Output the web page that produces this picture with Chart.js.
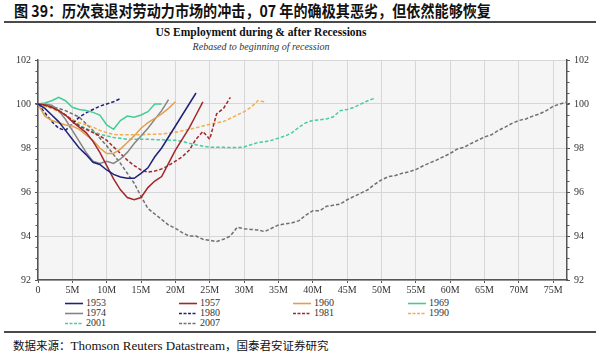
<!DOCTYPE html>
<html><head><meta charset="utf-8">
<script src="https://cdn.jsdelivr.net/npm/chart.js@4.4.1/dist/chart.umd.min.js"></script>
<style>
html,body{margin:0;padding:0;background:#fff;width:600px;height:359px;overflow:hidden;position:relative;font-family:"Liberation Serif","Noto Sans CJK SC",serif;color:#111;}
#title{position:absolute;left:14px;top:1px;font-family:"Noto Sans CJK SC",sans-serif;font-weight:bold;font-size:15.5px;line-height:19px;white-space:nowrap;transform:scaleX(0.91);transform-origin:0 0;}
.rule{position:absolute;left:4px;width:592px;height:2px;background:#4a4a4a;}
#ctitle{position:absolute;left:0;width:522px;text-align:center;top:25px;font-weight:bold;font-size:11.5px;line-height:14px;}
#csub{position:absolute;left:0;width:522px;text-align:center;top:40px;font-style:italic;font-size:10px;line-height:13px;color:#333;}
#wrap{position:absolute;left:0;top:50px;width:600px;height:245px;}
.lg{position:absolute;height:10px;font-size:10px;line-height:10px;white-space:nowrap;color:#333;}
.lg svg{position:absolute;left:0;top:0;}
.lg span{position:absolute;left:21px;top:0;}
#source{position:absolute;left:13px;top:337px;font-size:13px;line-height:16px;white-space:nowrap;}
#source .cj{font-family:"Noto Sans CJK SC",sans-serif;font-size:11.5px;}
</style>
</head>
<body>
<div id="title">图 39：历次衰退对劳动力市场的冲击，07 年的确极其恶劣，但依然能够恢复</div>
<div class="rule" style="top:21px"></div>
<div id="ctitle">US Employment during &amp; after Recessions</div>
<div id="csub">Rebased to beginning of recession</div>
<div id="wrap"><canvas id="c" width="600" height="245"></canvas></div>
<div id="legend"></div>
<div class="rule" style="top:331px"></div>
<div id="source"><span class="cj">数据来源：</span>Thomson Reuters Datastream<span class="cj">，国泰君安证券研究</span></div>
<script>
// ---- data (index = months since start of recession) ----
const seriesNames = ["1953","1957","1960","1969","1974","1980","1981","1990","2001","2007"];
const s1953 = [100,99.8,99.5,99.2,98.8,98.4,98.0,97.7,97.35,97.25,97.0,96.8,96.68,96.62,96.62,96.85,97.1,97.6,98.0,98.5,99.0,99.5,100.0,100.5];
const s1957 = [100,99.95,99.85,99.7,99.5,99.2,98.95,98.7,98.3,97.8,97.2,96.6,96.1,95.75,95.65,95.75,96.2,96.5,96.7,97.3,97.9,98.4,98.9,99.5,100.1];
const s1960 = [100,99.45,99.25,99.15,99.05,99.0,98.85,98.6,98.35,98.0,97.75,97.75,97.95,98.25,98.55,98.9,99.15,99.35,99.55,99.8,100.1];
const s1969 = [100,100.05,100.15,100.3,100.15,99.85,99.75,99.7,99.62,99.5,99.05,98.85,99.25,99.45,99.4,99.5,99.65,100.0,100.0];
const s1974 = [100,100,99.95,99.7,99.3,98.8,98.3,97.8,97.4,97.3,97.4,97.3,97.5,97.8,98.2,98.55,98.9,99.3,99.7,100.2];
const s1980 = [100,99.6,99.2,98.9,98.8,99.1,99.4,99.6,99.75,99.9,100.0,100.1,100.25];
const s1981 = [100,99.95,99.85,99.7,99.5,99.25,99.0,98.85,98.7,98.55,98.35,98.05,97.75,97.45,97.2,97.0,96.9,96.95,97.05,97.2,97.4,97.6,97.9,98.4,98.75,98.4,99.55,99.8,100.3];
const s1990 = [100,99.9,99.8,99.65,99.5,99.3,99.15,99.05,98.95,98.8,98.7,98.62,98.6,98.6,98.6,98.6,98.62,98.63,98.64,98.68,98.72,98.78,98.85,98.92,99.0,99.08,99.15,99.2,99.35,99.5,99.65,99.85,100.15,100.1];
const s2001 = [100,99.92,99.82,99.7,99.5,99.28,99.05,98.88,98.75,98.63,98.55,98.48,98.44,98.4,98.4,98.4,98.4,98.38,98.38,98.36,98.35,98.3,98.22,98.15,98.08,98.04,98.03,98.03,98.02,98.02,98.05,98.15,98.25,98.28,98.35,98.45,98.55,98.7,98.95,99.15,99.25,99.28,99.32,99.42,99.7,99.75,99.85,100.0,100.15,100.26];
const s2007 = [100,99.95,99.88,99.8,99.7,99.55,99.4,99.1,98.8,98.45,98.1,97.7,97.3,96.85,96.4,95.8,95.25,95.0,94.75,94.5,94.35,94.15,94.0,94.0,93.85,93.8,93.75,93.85,94.0,94.4,94.33,94.3,94.27,94.2,94.35,94.5,94.55,94.6,94.7,94.95,95.15,95.15,95.35,95.4,95.45,95.65,95.8,95.95,96.1,96.35,96.55,96.7,96.75,96.85,96.92,97.02,97.18,97.32,97.45,97.6,97.75,97.95,98.03,98.2,98.35,98.5,98.6,98.8,98.95,99.12,99.25,99.32,99.45,99.55,99.7,99.9,100.0,100.1];
const seriesValues = [s1953,s1957,s1960,s1969,s1974,s1980,s1981,s1990,s2001,s2007];
const yTicks = [92,94,96,98,100,102];
const xTickStep = 5; // months

// ---- styles ----
const colors = ["#1e2378","#a3262b","#e3a04c","#45cc94","#858585","#1e2378","#a3262b","#f2ad52","#45cca0","#707070"];
const dashed = [false,false,false,false,false,true,true,true,true,true];

const datasets = seriesNames.map((n,i)=>({
  label:n,
  data:seriesValues[i].map((v,k)=>({x:k,y:v})),
  borderColor:colors[i],
  backgroundColor:colors[i],
  borderWidth:1.5,
  borderDash:dashed[i]?[3.5,2]:[],
  pointRadius:0,
  tension:0,
  fill:false
}));

const bgPlugin = {
  id:'bg',
  beforeDraw(ch){
    const a=ch.chartArea, c=ch.ctx;
    c.save(); c.fillStyle='#f5f5f5'; c.fillRect(a.left,a.top,a.right-a.left,a.bottom-a.top); c.restore();
  },
  afterDraw(ch){
    const c=ch.ctx, y=ch.scales.y, a=ch.chartArea;
    c.save(); c.strokeStyle='#555'; c.lineWidth=1;
    for(let v=y.min; v<=y.max+1e-9; v+=0.5){
      const p=Math.round(y.getPixelForValue(v))+0.5;
      c.beginPath(); c.moveTo(a.left-2.5,p); c.lineTo(a.left,p); c.stroke();
      c.beginPath(); c.moveTo(a.right,p); c.lineTo(a.right+2.5,p); c.stroke();
    }
    c.restore();
  }
};

const tickFont = {family:'Liberation Serif', size:10};
new Chart(document.getElementById('c'),{
  type:'line',
  data:{datasets},
  plugins:[bgPlugin],
  options:{
    responsive:false, animation:false,
    layout:{padding:{top:1,left:0,right:0,bottom:0}},
    plugins:{legend:{display:false},tooltip:{enabled:false},title:{display:false}},
    scales:{
      x:{type:'linear',min:0,max:77,
        ticks:{stepSize:xTickStep,includeBounds:false,autoSkip:false,maxRotation:0,padding:1,color:'#333',font:tickFont,
          callback:v=>v===0?'0':v+'M'},
        grid:{color:'#d6d6d6',lineWidth:1,tickLength:3,tickColor:'#555'},
        border:{color:'#555',width:1.5},
        afterFit(s){s.height=15;}
      },
      y:{position:'left',min:92,max:102,
        afterBuildTicks(s){s.ticks=yTicks.map(v=>({value:v}));},
        ticks:{color:'#333',font:tickFont,padding:4},
        grid:{color:'#d6d6d6',lineWidth:1,tickLength:3,tickColor:'#555'},
        border:{color:'#555',width:1.5},
        afterFit(s){s.width=38;}
      },
      y2:{position:'right',min:92,max:102,
        afterBuildTicks(s){s.ticks=yTicks.map(v=>({value:v}));},
        ticks:{color:'#333',font:tickFont,padding:4},
        grid:{drawOnChartArea:false,tickLength:3,tickColor:'#555'},
        border:{color:'#555',width:1.5},
        afterFit(s){s.width=33;}
      }
    }
  }
});

// ---- HTML legend built from the series ----
const colX=[65,179,293,408], rowY=[298,308,318];
const lg=document.getElementById('legend');
seriesNames.forEach((n,i)=>{
  const d=document.createElement('div');
  d.className='lg';
  d.style.left=colX[i%4]+'px'; d.style.top=rowY[Math.floor(i/4)]+'px';
  d.innerHTML='<svg width="19" height="10"><line x1="0" y1="5.5" x2="18" y2="5.5" stroke="'+colors[i]+'" stroke-width="1.6"'+(dashed[i]?' stroke-dasharray="3,1.5"':'')+'/></svg><span>'+n+'</span>';
  lg.appendChild(d);
});
</script>
</body></html>
